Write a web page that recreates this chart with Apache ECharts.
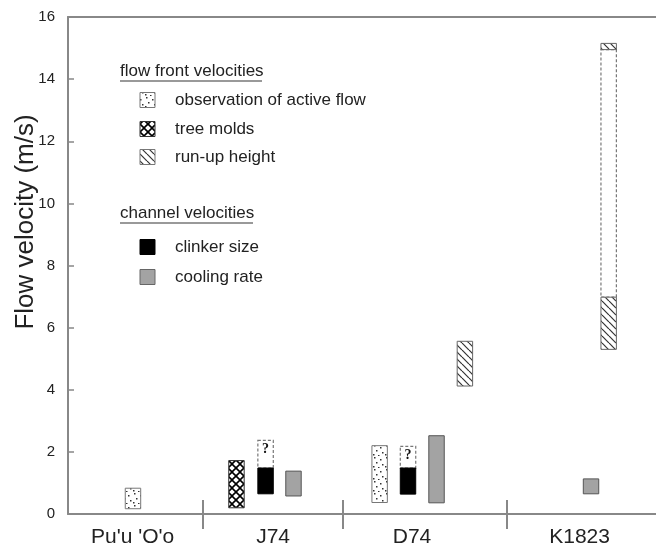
<!DOCTYPE html>
<html>
<head>
<meta charset="utf-8">
<title>Flow velocity</title>
<script src="https://cdn.jsdelivr.net/npm/echarts@6/dist/echarts.min.js"></script>
<style>
    html, body { margin: 0; padding: 0; background: #fff; }
    #chart { width: 656px; height: 548px; }
</style>
</head>
<body>
<div id="chart"></div>
<script>
// groups along the x axis (x in group units, 0..4)
var groups = ["Pu'u 'O'o", 'J74', 'D74', 'K1823'];
var groupLabelAt = [0.44, 1.395, 2.34, 3.48];
var groupBreaks = [0.918, 1.871, 2.986];

// bars: [x, low, high] in m/s
var observation = [[0.442, 0.17, 0.83], [2.12, 0.37, 2.2]];
var treeMolds = [[1.146, 0.2, 1.72]];
var runUp = [[2.70, 4.12, 5.56], [3.678, 5.3, 6.98], [3.678, 14.95, 15.15]];
var clinker = [[1.344, 0.65, 1.48], [2.313, 0.64, 1.48]];
var cooling = [[1.534, 0.58, 1.38], [2.507, 0.36, 2.52], [3.558, 0.65, 1.13]];
// dashed (uncertain) extensions: [x, low, high], with mark
var uncertain = [[1.344, 1.48, 2.37], [2.313, 1.48, 2.18], [3.678, 6.98, 14.95]];
var uncertainMark = ['?', '?', ''];

var barWidth = 0.105;
var font = "'Liberation Sans', Arial, Helvetica, sans-serif";

(function (window) {
    var chart = echarts.init(document.getElementById('chart'));

    // 填充图案
    function tile(size, draw) {
        var c = document.createElement('canvas');
        c.width = c.height = size;
        var g = c.getContext('2d');
        g.fillStyle = '#fff';
        g.fillRect(0, 0, size, size);
        draw(g, size);
        return { image: c, repeat: 'repeat' };
    }

    var dotted = tile(12, function (g) {
        g.fillStyle = '#333';
        [[2, 1], [8, 3], [4, 6], [10, 8], [1, 10], [6, 11]].forEach(function (p) {
            g.fillRect(p[0], p[1], 1.5, 1.5);
        });
    });

    var crossed = tile(8, function (g, s) {
        g.strokeStyle = '#000';
        g.lineWidth = 1.6;
        for (var k = -s; k <= s; k += s) {
            g.beginPath(); g.moveTo(k, 0); g.lineTo(k + s, s); g.stroke();
            g.beginPath(); g.moveTo(k + s, 0); g.lineTo(k, s); g.stroke();
        }
    });

    var hatched = tile(7, function (g, s) {
        g.strokeStyle = '#333';
        g.lineWidth = 1.2;
        for (var k = -s; k <= s; k += s) {
            g.beginPath(); g.moveTo(k, 0); g.lineTo(k + s, s); g.stroke();
        }
    });

    function barRender(fill, stroke) {
        return function (params, api) {
            var top = api.coord([api.value(0), api.value(2)]);
            var bottom = api.coord([api.value(0), api.value(1)]);
            var w = api.size([barWidth, 0])[0];
            return {
                type: 'rect',
                shape: { x: top[0] - w / 2, y: top[1], width: w, height: bottom[1] - top[1] },
                style: { fill: fill, stroke: stroke, lineWidth: 1 }
            };
        };
    }

    function buildBarSeries(name, data, fill, stroke) {
        return {
            name: name,
            type: 'custom',
            encode: { x: 0, y: [1, 2] },
            renderItem: barRender(fill, stroke),
            data: data,
            silent: true
        };
    }

    var uncertainSeries = {
        name: 'uncertain',
        type: 'custom',
        encode: { x: 0, y: [1, 2] },
        data: uncertain,
        silent: true,
        z: 1,
        renderItem: function (params, api) {
            var top = api.coord([api.value(0), api.value(2)]);
            var bottom = api.coord([api.value(0), api.value(1)]);
            var w = api.size([barWidth, 0])[0];
            return {
                type: 'group',
                children: [{
                    type: 'rect',
                    shape: { x: top[0] - w / 2, y: top[1], width: w, height: bottom[1] - top[1] },
                    style: { fill: 'none', stroke: '#777', lineWidth: 1.2, lineDash: [3, 2] }
                }, {
                    type: 'text',
                    x: top[0],
                    y: top[1] + 2,
                    style: {
                        text: uncertainMark[params.dataIndex],
                        fill: '#111',
                        font: "bold 14px 'Liberation Serif', 'Times New Roman', serif",
                        align: 'center',
                        verticalAlign: 'top'
                    }
                }]
            };
        }
    };

    function labelFor(v) {
        var best = 0;
        groupLabelAt.forEach(function (p, i) {
            if (Math.abs(p - v) < Math.abs(groupLabelAt[best] - v)) best = i;
        });
        return groups[best];
    }

    var axisColor = '#888';

    // 图例（自绘）
    function legendIcon(y, fill, stroke) {
        return { type: 'rect', shape: { x: 140, y: y - 7.5, width: 15, height: 15 }, style: { fill: fill, stroke: stroke, lineWidth: 1 } };
    }
    function legendText(x, y, text) {
        return { type: 'text', x: x, y: y, style: { text: text, fill: '#222', font: '17px ' + font, verticalAlign: 'middle' } };
    }
    function underline(x1, x2, y) {
        return { type: 'line', shape: { x1: x1, y1: y, x2: x2, y2: y }, style: { stroke: '#999', lineWidth: 2 } };
    }

    chart.setOption({
        animation: false,
        grid: { left: 68, right: 0, top: 17, bottom: 31 },
        xAxis: [{
            type: 'value', min: 0, max: 4, position: 'bottom',
            axisLine: { lineStyle: { color: axisColor, width: 2 } },
            axisTick: { customValues: groupBreaks, length: 15, lineStyle: { color: axisColor, width: 2 } },
            axisLabel: {
                customValues: groupLabelAt,
                formatter: labelFor,
                fontSize: 21, fontFamily: font, color: '#222', margin: 13
            },
            splitLine: { show: false }
        }, {
            type: 'value', min: 0, max: 4, position: 'bottom',
            axisLine: { show: false },
            axisTick: { inside: true, customValues: groupBreaks, length: 14, lineStyle: { color: axisColor, width: 2 } },
            axisLabel: { show: false },
            splitLine: { show: false }
        }, {
            type: 'value', min: 0, max: 4, position: 'top',
            axisLine: { lineStyle: { color: axisColor, width: 2 } },
            axisTick: { show: false },
            axisLabel: { show: false },
            splitLine: { show: false }
        }],
        yAxis: {
            type: 'value', min: 0, max: 16, interval: 2,
            axisLine: { show: true, lineStyle: { color: axisColor, width: 2 } },
            axisTick: { inside: true, length: 6, lineStyle: { color: axisColor, width: 1.5 } },
            axisLabel: { fontSize: 15, fontFamily: font, color: '#222', margin: 13 },
            splitLine: { show: false }
        },
        graphic: [
            {
                type: 'text', x: 26, y: 222, rotation: Math.PI / 2,
                style: { text: 'Flow velocity (m/s)', fill: '#222', font: '26px ' + font, align: 'center', verticalAlign: 'middle' }
            },
            legendText(120, 71, 'flow front velocities'),
            underline(120, 262, 81),
            legendIcon(100, dotted, '#777'),
            legendText(175, 100, 'observation of active flow'),
            legendIcon(129, crossed, '#333'),
            legendText(175, 129, 'tree molds'),
            legendIcon(157, hatched, '#777'),
            legendText(175, 157, 'run-up height'),
            legendText(120, 213, 'channel velocities'),
            underline(120, 253, 223),
            legendIcon(247, '#000', '#000'),
            legendText(175, 247, 'clinker size'),
            legendIcon(277, '#a3a3a3', '#666'),
            legendText(175, 277, 'cooling rate')
        ],
        series: [
            uncertainSeries,
            buildBarSeries('observation of active flow', observation, dotted, '#777'),
            buildBarSeries('tree molds', treeMolds, crossed, '#333'),
            buildBarSeries('run-up height', runUp, hatched, '#666'),
            buildBarSeries('clinker size', clinker, '#000', '#000'),
            buildBarSeries('cooling rate', cooling, '#a3a3a3', '#555')
        ]
    });
})(window);
</script>
</body>
</html>
